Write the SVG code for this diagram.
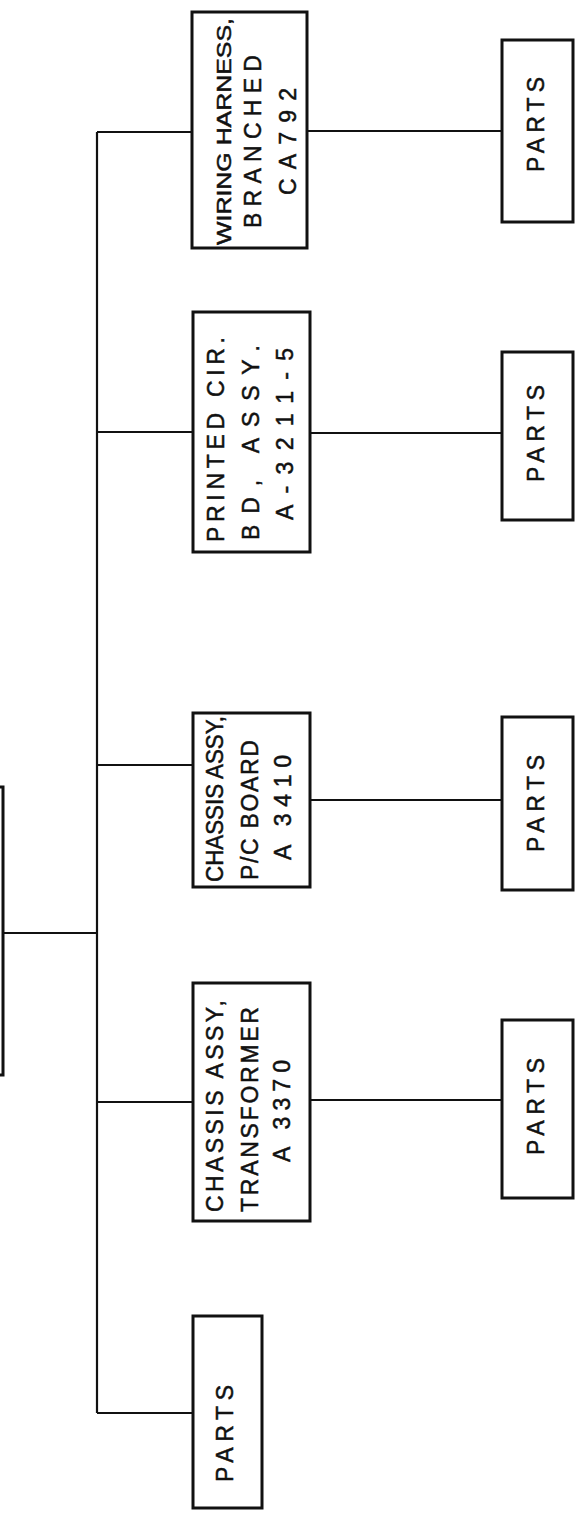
<svg xmlns="http://www.w3.org/2000/svg" width="581" height="1522" viewBox="0 0 581 1522">
<style>
.box{fill:#fff;stroke:#111;stroke-width:3}
.ln{stroke:#111;stroke-width:2.2;fill:none}
.t{font-family:"Liberation Sans",Arial,sans-serif;font-size:23px;fill:#111;stroke:#111;stroke-width:0.5}
</style>
<rect width="581" height="1522" fill="#fff"/>
<g id="connectors">
<line class="ln" x1="97" y1="132" x2="97" y2="1413"/>
<line class="ln" x1="3" y1="933" x2="97" y2="933"/>
<line class="ln" x1="97" y1="132" x2="192" y2="132"/>
<line class="ln" x1="97" y1="432" x2="193" y2="432"/>
<line class="ln" x1="97" y1="765" x2="193" y2="765"/>
<line class="ln" x1="97" y1="1102" x2="193" y2="1102"/>
<line class="ln" x1="97" y1="1413" x2="193" y2="1413"/>
<line class="ln" x1="307" y1="131" x2="502" y2="131"/>
<line class="ln" x1="310" y1="433" x2="502" y2="433"/>
<line class="ln" x1="310" y1="800" x2="502" y2="800"/>
<line class="ln" x1="310" y1="1100" x2="502" y2="1100"/>
</g>
<g id="top">
<rect class="box" x="-100" y="787" width="103" height="288" stroke-width="4"/>
</g>
<g id="parts0">
<rect class="box" x="193" y="1316" width="69" height="192"/>
<text class="t" transform="translate(233,1482) rotate(-90)" textLength="97" lengthAdjust="spacing">PARTS</text>
</g>
<g id="transformer">
<rect class="box" x="193" y="983" width="117" height="238"/>
<text class="t" transform="translate(223,1212) rotate(-90)" textLength="212" lengthAdjust="spacing">CHASSIS ASSY,</text>
<text class="t" transform="translate(258,1212) rotate(-90)" textLength="205" lengthAdjust="spacing">TRANSFORMER</text>
<text class="t" transform="translate(290,1162) rotate(-90)" textLength="102" lengthAdjust="spacing">A 3370</text>
</g>
<g id="pcboard">
<rect class="box" x="193" y="713" width="117" height="174"/>
<text class="t" transform="translate(223,882) rotate(-90)" textLength="166" lengthAdjust="spacingAndGlyphs">CHASSIS ASSY,</text>
<text class="t" transform="translate(258,880) rotate(-90)" textLength="140" lengthAdjust="spacing">P/C BOARD</text>
<text class="t" transform="translate(291,860) rotate(-90)" textLength="105" lengthAdjust="spacing">A 3410</text>
</g>
<g id="printed">
<rect class="box" x="193" y="312" width="117" height="240"/>
<text class="t" transform="translate(224,542) rotate(-90)" textLength="205" lengthAdjust="spacing">PRINTED CIR.</text>
<text class="t" transform="translate(259,540) rotate(-90)" textLength="195" lengthAdjust="spacing">BD, ASSY.</text>
<text class="t" transform="translate(293,520) rotate(-90)" textLength="172" lengthAdjust="spacing">A-3211-5</text>
</g>
<g id="wiring">
<rect class="box" x="192" y="12" width="115" height="236"/>
<text class="t" transform="translate(231,245) rotate(-90)" textLength="227" lengthAdjust="spacingAndGlyphs" style="font-size:21px">WIRING HARNESS,</text>
<text class="t" transform="translate(261,228) rotate(-90)" textLength="173" lengthAdjust="spacing">BRANCHED</text>
<text class="t" transform="translate(296,195) rotate(-90)" textLength="107" lengthAdjust="spacing">CA792</text>
</g>
<g id="parts1">
<rect class="box" x="502" y="40" width="71" height="182"/>
<text class="t" transform="translate(544,172) rotate(-90)" textLength="95" lengthAdjust="spacing">PARTS</text>
</g>
<g id="parts2">
<rect class="box" x="502" y="352" width="71" height="168"/>
<text class="t" transform="translate(544,482) rotate(-90)" textLength="97" lengthAdjust="spacing">PARTS</text>
</g>
<g id="parts3">
<rect class="box" x="502" y="717" width="71" height="173"/>
<text class="t" transform="translate(544,852) rotate(-90)" textLength="97" lengthAdjust="spacing">PARTS</text>
</g>
<g id="parts4">
<rect class="box" x="502" y="1020" width="71" height="178"/>
<text class="t" transform="translate(544,1155) rotate(-90)" textLength="97" lengthAdjust="spacing">PARTS</text>
</g>
</svg>
